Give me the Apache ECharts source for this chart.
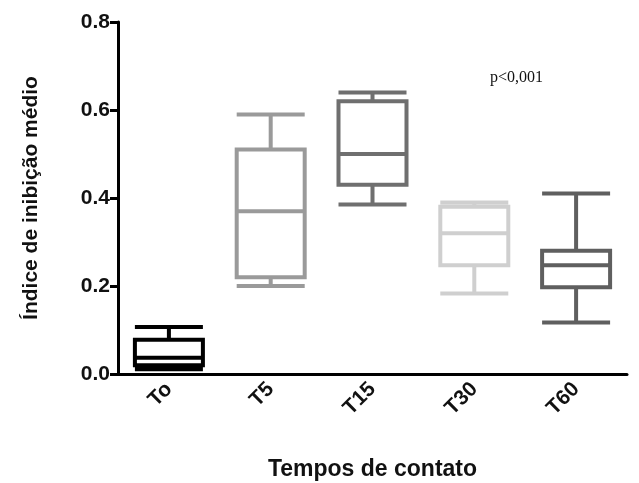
<!DOCTYPE html>
<html><head><meta charset="utf-8">
<script src="https://cdn.jsdelivr.net/npm/echarts@6/dist/echarts.min.js"></script>
<style>html,body{margin:0;background:#fff}#c{width:639px;height:483px}</style>
</head><body><div id="c"></div>
<script>
var categories = ['To', 'T5', 'T15', 'T30', 'T60'];
// [min, Q1, median, Q3, max]
var boxes = [
    [0.011, 0.02, 0.037, 0.078, 0.107],
    [0.20, 0.22, 0.37, 0.51, 0.59],
    [0.385, 0.43, 0.50, 0.62, 0.64],
    [0.183, 0.247, 0.32, 0.38, 0.39],
    [0.117, 0.197, 0.247, 0.28, 0.41]
];
var boxColors = ['#000000', '#9a9a9a', '#6f6f6f', '#cfcfcf', '#5f5f5f'];

var chart = echarts.init(document.getElementById('c'));
chart.setOption({
    animation: false,
    grid: {left: 118, right: 12, top: 22, bottom: 109, outerBoundsMode: 'none', containLabel: false},
    xAxis: {
        type: 'category',
        data: categories,
        name: 'Tempos de contato',
        nameLocation: 'middle',
        nameGap: 84,
        nameTextStyle: {fontFamily: 'Liberation Sans', fontWeight: 'bold', fontSize: 23, color: '#111'},
        axisLine: {lineStyle: {color: '#000', width: 3}},
        axisTick: {alignWithLabel: true, length: 8, lineStyle: {width: 3}},
        axisLabel: {rotate: 45, fontFamily: 'Liberation Sans', fontWeight: 'bold', fontSize: 21, color: '#111', margin: 12}
    },
    yAxis: {
        type: 'value',
        min: 0, max: 0.8, interval: 0.2,
        name: 'Índice de inibição médio',
        nameLocation: 'middle',
        nameGap: 76,
        nameTextStyle: {fontFamily: 'Liberation Sans', fontWeight: 'bold', fontSize: 21, color: '#111'},
        splitLine: {show: false},
        axisLine: {show: true, lineStyle: {color: '#000', width: 3}},
        axisTick: {show: true, length: 8, lineStyle: {width: 3}},
        axisLabel: {fontFamily: 'Liberation Sans', fontWeight: 'bold', fontSize: 21, color: '#111',
            formatter: function (v) { return v.toFixed(1); }}
    },
    graphic: [{type: 'text', left: 490, top: 70,
        style: {text: 'p<0,001', font: '16px "Liberation Serif"', fill: '#111'}}],
    series: [{
        type: 'boxplot',
        boxWidth: [68, 68],
        data: boxes.map(function (b, i) {
            return {value: b, itemStyle: {color: '#fff', borderColor: boxColors[i], borderWidth: 4}};
        })
    }]
});
</script></body></html>
